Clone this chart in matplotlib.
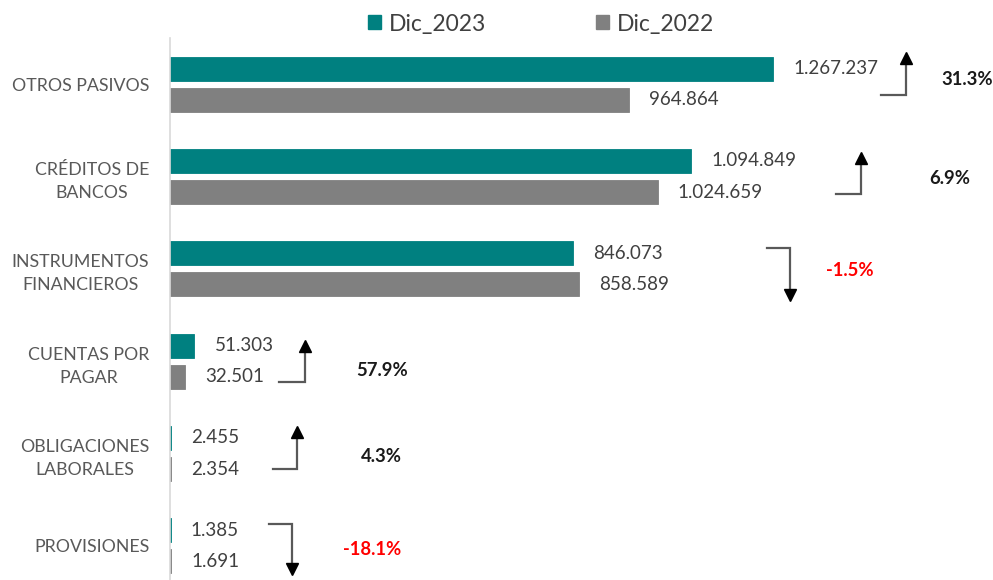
import matplotlib.pyplot as plt
import numpy as np
from matplotlib.patches import Patch

plt.rcParams['font.family'] = ['Lato', 'DejaVu Sans']

categories = ['OTROS PASIVOS', 'CRÉDITOS DE\nBANCOS', 'INSTRUMENTOS\nFINANCIEROS',
              'CUENTAS POR\nPAGAR', 'OBLIGACIONES\nLABORALES', 'PROVISIONES']
dic_2023 = [1267237, 1094849, 846073, 51303, 2455, 1385]
dic_2022 = [964864, 1024659, 858589, 32501, 2354, 1691]
pct_labels = ['31.3%', '6.9%', '-1.5%', '57.9%', '4.3%', '-18.1%']

# arrow layout (x in data units, y as offset from the category centre)
arrow_start = [1494000, 1400000, 1255000, 229000, 216000, 208000]
arrow_corner = [1547000, 1452000, 1303000, 284000, 267000, 256000]
arrow_base = [0.12, 0.19, -0.23, 0.23, 0.17, -0.24]
arrow_tip = [-0.34, -0.26, 0.34, -0.22, -0.29, 0.31]
pct_x = [1622000, 1595000, 1379000, 391000, 401000, 364000]
pct_y = [-0.05, 0.02, 0.02, 0.10, 0.03, 0.04]

teal = '#008080'
gray = '#808080'

fig = plt.figure(figsize=(9.93, 5.80), dpi=100)
ax = fig.add_axes([170 / 993, -12 / 580, 823 / 993, 554 / 580])

y = np.arange(len(categories))
h = 0.26
off = 0.168
ax.barh(y - off, dic_2023, height=h, color=teal, edgecolor=teal, linewidth=0.6)
ax.barh(y + off, dic_2022, height=h, color=gray, edgecolor=gray, linewidth=0.6)

for i in range(len(categories)):
    ax.annotate(f'{dic_2023[i]:,}'.replace(',', '.'), (dic_2023[i], y[i] - off),
                xytext=(14.5, 0), textcoords='offset points', va='center',
                fontsize=13.5, color='#404040')
    ax.annotate(f'{dic_2022[i]:,}'.replace(',', '.'), (dic_2022[i], y[i] + off),
                xytext=(14.5, 0), textcoords='offset points', va='center',
                fontsize=13.5, color='#404040')

    yb = y[i] + arrow_base[i]
    yt = y[i] + arrow_tip[i]
    up = arrow_tip[i] < arrow_base[i]
    ax.plot([arrow_start[i], arrow_corner[i], arrow_corner[i]],
            [yb, yb, yt + (0.08 if up else -0.08)], color='#595959', lw=1.6,
            solid_joinstyle='miter', clip_on=False)
    ax.plot([arrow_corner[i]], [yt + (0.06 if up else -0.06)],
            marker='^' if up else 'v', color='black', markersize=9, clip_on=False)

    neg = pct_labels[i].startswith('-')
    ax.text(pct_x[i], y[i] + pct_y[i], pct_labels[i], va='center', ha='left',
            fontsize=13.3, fontweight='bold', color='#FF0000' if neg else '#1a1a1a')

ax.set_ylim(len(categories) - 0.5, -0.5)
ax.set_xlim(0, 1729700)
ax.set_yticks(y)
ax.set_yticklabels(categories, fontsize=12.8, color='#595959', multialignment='center',
                   linespacing=1.55)
ax.tick_params(axis='y', length=0, pad=15)
ax.set_xticks([])
for s in ['top', 'right', 'bottom']:
    ax.spines[s].set_visible(False)
ax.spines['left'].set_color('#D9D9D9')
ax.spines['left'].set_linewidth(1.2)

handles = [Patch(color=teal, label='Dic_2023'), Patch(color=gray, label='Dic_2022')]
fig.legend(handles=handles, loc='center', bbox_to_anchor=(541 / 993, 1 - 24 / 580),
           ncol=2, frameon=False, fontsize=16.5, handlelength=0.55, handleheight=0.55,
           handletextpad=0.35, columnspacing=4.8, labelcolor='#404040')

fig.savefig('out.png', dpi=100)
